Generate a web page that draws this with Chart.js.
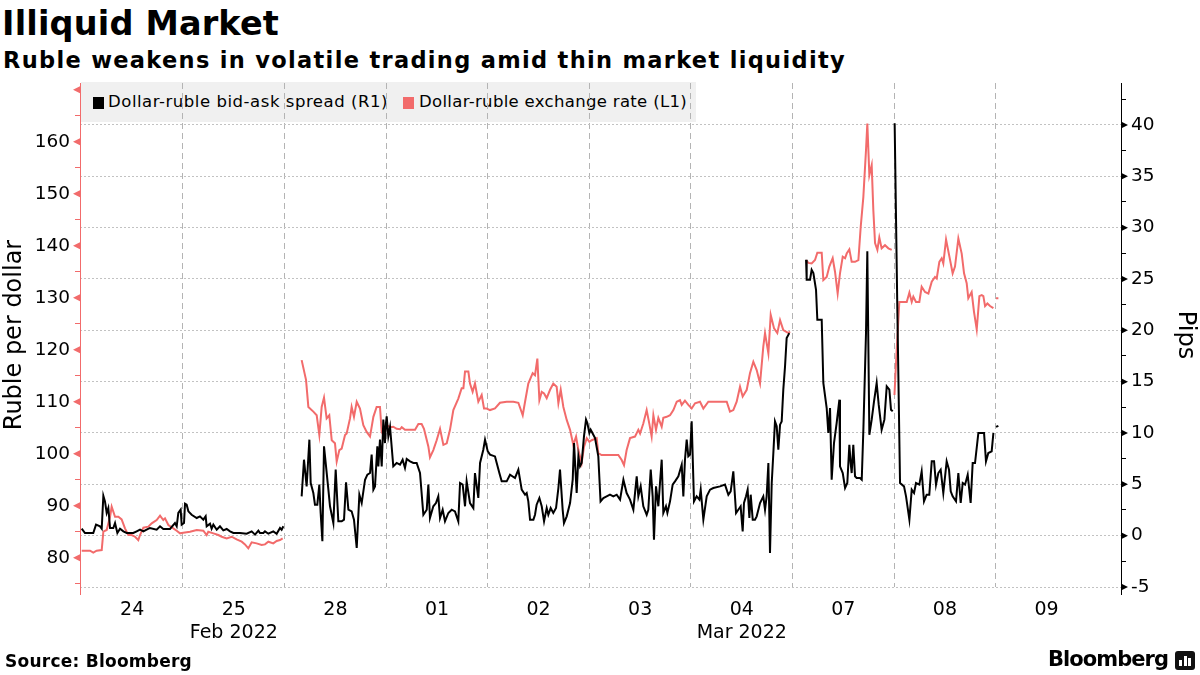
<!DOCTYPE html>
<html><head><meta charset="utf-8">
<script src="https://cdn.jsdelivr.net/npm/chart.js@4.4.1/dist/chart.umd.min.js"></script>
<style>
html,body{margin:0;padding:0;background:#fff;}
#wrap{position:relative;width:1200px;height:675px;overflow:hidden;font-family:"DejaVu Sans",sans-serif;background:#fff;}
.t{position:absolute;white-space:nowrap;line-height:1;color:#000;}
#chart{position:absolute;left:0;top:0;z-index:2;}
#legend{position:absolute;left:81px;top:82px;width:615px;height:40px;background:#f0f0f0;z-index:1;}
#legend .sq{position:absolute;top:15px;width:11px;height:12px;}
#legend .lt{position:absolute;top:12px;font-size:16.5px;line-height:1;white-space:nowrap;color:#000;}
#logo{position:absolute;left:1175px;top:651px;width:20px;height:19px;background:#111;border-radius:3px;z-index:3;}
#logo i{position:absolute;bottom:4px;width:3px;background:#fff;}
</style></head><body>
<div id="wrap">
  <div class="t" id="title" style="left:2px;top:6.7px;font-size:33.5px;font-weight:bold">Illiquid Market</div>
  <div class="t" id="subtitle" style="left:3px;top:48.5px;font-size:22.5px;font-weight:bold">Ruble weakens in volatile trading amid thin market liquidity</div>
  <div id="legend">
    <span class="sq" style="left:12px;background:#000"></span>
    <span class="lt" id="lg1" style="left:27px">Dollar-ruble bid-ask spread (R1)</span>
    <span class="sq" style="left:322px;background:#f26b6b"></span>
    <span class="lt" id="lg2" style="left:338px">Dollar-ruble exchange rate (L1)</span>
  </div>
  <canvas id="chart" width="1200" height="675"></canvas>
  <div class="t" id="source" style="left:5px;top:653px;font-size:17px;font-weight:bold;z-index:3">Source: Bloomberg</div>
  <div class="t" id="brand" style="left:1048px;top:648.5px;font-size:21px;font-weight:bold;z-index:3">Bloomberg</div>
  <div id="logo"><i style="left:4px;height:6px"></i><i style="left:8.5px;height:10px"></i><i style="left:13px;height:8px"></i></div>
</div>
<script>
// ---------- data ----------
const dayLabels = ['24','25','28','01','02','03','04','07','08','09'];
const monthLabels = {1:'Feb 2022', 6:'Mar 2022'};
const leftTicks = [75,80,85,90,95,100,105,110,115,120,125,130,135,140,145,150,155,160,165,170];
const rightTicks = [-5,-2.5,0,2.5,5,7.5,10,12.5,15,17.5,20,22.5,25,27.5,30,32.5,35,37.5,40,42.5];

// x = trading-day index (0 = 24 Feb) + fraction of the session day
// Dollar-ruble bid-ask spread, pips (R1)
const spreadFeb24to25 = [[0.003,0.68],[0.035,0.26],[0.117,0.26],[0.144,1.07],[0.183,0.91],[0.200,0.68],[0.216,3.89],[0.232,3.34],[0.249,2.21],[0.265,2.69],[0.282,0.75],[0.314,0.75],[0.331,1.23],[0.354,0.26],[0.380,0.68],[0.413,0.42],[0.446,0.26],[0.511,0.26],[0.544,0.42],[0.577,0.58],[0.610,0.42],[0.642,0.58],[0.675,0.75],[0.741,0.58],[0.774,0.91],[0.806,0.65],[0.872,0.65],[0.921,1.23],[0.938,0.91],[0.954,2.21],[0.977,2.53],[0.987,1.07],[1.010,1.23],[1.020,3.12],[1.036,3.02],[1.053,2.37],[1.085,2.04],[1.135,1.72],[1.167,1.88],[1.200,1.56],[1.223,1.88],[1.233,0.91],[1.266,1.17],[1.282,0.68],[1.299,1.07],[1.332,0.58],[1.364,0.91],[1.397,0.52],[1.430,0.65],[1.463,0.42],[1.496,0.26],[1.561,0.26],[1.627,0.19],[1.676,0.42],[1.709,0.10],[1.742,0.49],[1.758,0.26],[1.791,0.26],[1.807,0.42],[1.840,0.19],[1.889,0.42],[1.922,0.19],[1.955,0.75],[1.971,0.58],[1.988,0.91]];
const spreadFeb28toMar4 = [[2.168,3.83],[2.191,7.40],[2.217,4.80],[2.244,9.35],[2.257,5.13],[2.283,4.15],[2.299,3.02],[2.322,3.02],[2.342,4.97],[2.355,2.21],[2.372,-0.55],[2.388,8.70],[2.408,6.75],[2.431,4.48],[2.447,2.86],[2.480,1.23],[2.503,6.43],[2.529,1.40],[2.562,1.40],[2.585,1.56],[2.605,5.19],[2.628,2.53],[2.660,2.37],[2.683,1.56],[2.710,-1.20],[2.736,3.99],[2.759,3.18],[2.792,5.45],[2.815,5.94],[2.841,6.10],[2.857,7.89],[2.874,4.48],[2.890,4.80],[2.913,8.70],[2.923,6.75],[2.939,9.35],[2.956,6.75],[2.972,11.30],[2.988,9.02],[2.998,11.00],
[3.005,11.62],[3.021,9.67],[3.038,10.58],[3.070,6.75],[3.103,7.08],[3.136,6.91],[3.162,7.40],[3.185,6.59],[3.202,7.47],[3.235,7.24],[3.267,7.08],[3.300,7.08],[3.333,6.10],[3.366,2.04],[3.399,2.53],[3.415,4.97],[3.431,1.72],[3.464,2.86],[3.490,3.18],[3.513,3.83],[3.530,1.72],[3.556,2.53],[3.579,1.40],[3.612,2.21],[3.645,2.53],[3.677,2.37],[3.710,1.40],[3.727,5.13],[3.753,4.97],[3.776,2.86],[3.792,5.29],[3.825,3.18],[3.858,2.69],[3.874,6.10],[3.907,3.67],[3.924,7.08],[3.956,8.37],[3.973,9.35],
[4.000,8.21],[4.022,7.89],[4.071,7.72],[4.088,7.07],[4.114,6.10],[4.137,5.29],[4.186,5.29],[4.219,5.94],[4.268,5.62],[4.301,6.43],[4.334,4.48],[4.367,3.99],[4.383,4.15],[4.399,3.34],[4.416,1.56],[4.449,1.56],[4.465,2.04],[4.481,3.02],[4.508,3.67],[4.531,2.86],[4.554,1.40],[4.580,2.69],[4.596,2.04],[4.619,2.69],[4.645,2.21],[4.672,2.69],[4.695,4.64],[4.711,6.43],[4.737,2.53],[4.750,1.23],[4.777,1.88],[4.810,3.18],[4.836,5.45],[4.849,9.02],[4.875,4.15],[4.892,7.72],[4.908,6.75],[4.924,7.07],[4.947,9.67],[4.967,11.30],[4.980,10.97],
[5.000,10.00],[5.013,10.32],[5.056,9.51],[5.088,7.72],[5.110,3.34],[5.138,3.67],[5.170,3.83],[5.203,3.99],[5.236,3.83],[5.269,3.99],[5.302,3.51],[5.335,5.45],[5.367,4.15],[5.400,3.51],[5.433,2.53],[5.466,5.78],[5.482,3.83],[5.505,4.80],[5.531,2.86],[5.564,2.04],[5.580,2.53],[5.604,6.43],[5.623,3.83],[5.636,-0.39],[5.656,4.80],[5.679,2.86],[5.695,5.13],[5.712,7.40],[5.728,2.21],[5.754,2.86],[5.768,2.21],[5.794,3.34],[5.820,4.97],[5.843,5.29],[5.876,5.78],[5.909,6.91],[5.925,3.83],[5.941,7.40],[5.958,9.35],[5.974,7.72],[5.991,7.89],
[6.007,11.13],[6.030,3.34],[6.056,3.83],[6.083,3.51],[6.096,4.48],[6.122,1.56],[6.155,3.83],[6.188,4.48],[6.220,4.64],[6.286,4.80],[6.335,4.97],[6.368,3.99],[6.391,4.32],[6.417,6.26],[6.444,2.21],[6.466,2.53],[6.489,2.86],[6.509,0.42],[6.522,3.18],[6.542,3.83],[6.558,4.48],[6.575,1.72],[6.588,3.99],[6.608,1.56],[6.630,1.56],[6.647,1.88],[6.680,3.18],[6.712,3.83],[6.729,2.53],[6.745,3.83],[6.762,7.07],[6.778,-1.69],[6.795,5.13],[6.811,8.05],[6.827,11.13],[6.844,10.65],[6.860,8.37],[6.877,10.81],[6.893,11.13],[6.909,14.22],[6.926,16.49],[6.942,19.25],[6.968,19.73]];
const spreadMar7 = [[7.133,26.87],[7.139,24.93],[7.172,24.93],[7.188,25.90],[7.205,25.58],[7.231,23.95],[7.244,21.03],[7.287,21.03],[7.303,14.87],[7.336,12.43],[7.352,10.00],[7.369,12.43],[7.385,5.45],[7.408,9.02],[7.434,10.97],[7.461,13.24],[7.467,6.75],[7.494,6.10],[7.517,4.64],[7.539,5.13],[7.559,8.86],[7.572,7.07],[7.582,6.10],[7.598,8.86],[7.615,5.78],[7.631,5.62],[7.664,5.62],[7.681,5.45],[7.697,10.32],[7.723,19.73],[7.736,27.69],[7.756,9.83],[7.779,11.30],[7.802,13.08],[7.828,14.87],[7.848,12.76],[7.877,10.32],[7.904,11.30],[7.927,14.54],[7.953,14.22],[7.969,12.27],[7.986,12.11]];
const spreadMar8 = [[8.005,40.18],[8.032,21.68],[8.058,5.13],[8.097,4.80],[8.117,3.83],[8.150,1.56],[8.173,4.48],[8.196,4.15],[8.215,5.13],[8.248,4.97],[8.271,6.26],[8.294,3.34],[8.320,3.99],[8.346,3.99],[8.370,7.24],[8.393,7.24],[8.412,4.97],[8.435,6.10],[8.458,6.43],[8.484,4.15],[8.517,7.24],[8.540,6.43],[8.557,4.32],[8.576,3.83],[8.609,3.34],[8.632,6.10],[8.655,3.18],[8.675,5.13],[8.698,4.97],[8.724,5.94],[8.753,3.18],[8.773,7.07],[8.796,7.07],[8.829,10.00],[8.862,10.00],[8.885,10.00],[8.904,7.24],[8.927,8.05],[8.960,8.21],[8.977,10.00]];
const spreadMar9 = [[9.003,10.60],[9.026,10.70]];

// Dollar-ruble exchange rate, rubles per dollar (L1)
const rateFeb24to25 = [[0.003,81.35],[0.085,81.35],[0.117,80.97],[0.150,81.35],[0.200,81.48],[0.216,85.00],[0.249,85.33],[0.282,87.89],[0.298,89.81],[0.331,87.89],[0.364,87.89],[0.396,87.38],[0.429,85.65],[0.462,84.37],[0.495,84.37],[0.528,84.04],[0.560,83.40],[0.577,84.37],[0.610,85.78],[0.659,85.97],[0.692,86.61],[0.741,87.25],[0.774,88.08],[0.806,87.25],[0.823,87.57],[0.856,86.29],[0.905,85.65],[0.938,85.20],[0.971,84.69],[1.003,84.81],[1.069,85.00],[1.135,85.33],[1.200,85.20],[1.233,84.37],[1.249,85.00],[1.299,84.69],[1.348,84.37],[1.381,84.04],[1.430,83.72],[1.479,84.04],[1.528,83.53],[1.578,83.08],[1.610,82.57],[1.643,81.80],[1.676,82.96],[1.725,82.76],[1.774,82.44],[1.807,82.57],[1.840,83.08],[1.889,82.76],[1.922,83.21],[1.955,83.40],[1.981,83.72]];
const rateFeb28toMar4 = [[2.168,118.0],[2.211,114.2],[2.234,109.0],[2.283,108.1],[2.316,107.4],[2.342,103.6],[2.365,109.0],[2.388,110.8],[2.414,106.8],[2.440,107.4],[2.464,102.6],[2.496,102.0],[2.513,98.5],[2.539,100.7],[2.562,101.0],[2.595,103.6],[2.611,103.9],[2.644,106.8],[2.660,109.0],[2.683,107.1],[2.710,110.0],[2.742,108.7],[2.775,105.5],[2.808,104.2],[2.841,103.3],[2.874,107.1],[2.906,109.0],[2.939,109.0],[2.956,104.2],[2.972,103.6],[2.988,105.2],[3.005,105.5],
[3.038,105.1],[3.070,105.2],[3.103,104.8],[3.136,104.7],[3.153,105.1],[3.185,104.6],[3.235,104.6],[3.284,104.6],[3.317,105.7],[3.349,105.7],[3.372,104.8],[3.415,101.4],[3.431,99.3],[3.464,100.7],[3.497,102.6],[3.530,104.8],[3.563,101.7],[3.596,102.0],[3.628,104.6],[3.661,108.4],[3.710,110.6],[3.743,112.6],[3.760,112.6],[3.776,115.8],[3.809,115.8],[3.825,113.5],[3.851,111.9],[3.874,113.5],[3.907,110.0],[3.940,111.3],[3.963,108.7],[3.989,108.7],
[4.022,108.4],[4.071,108.7],[4.120,109.8],[4.186,110.0],[4.252,110.0],[4.301,109.8],[4.344,107.4],[4.367,110.0],[4.399,113.5],[4.442,115.5],[4.465,115.1],[4.488,118.3],[4.508,110.3],[4.531,111.9],[4.554,111.6],[4.580,110.7],[4.613,112.3],[4.645,113.5],[4.678,112.9],[4.695,109.7],[4.718,112.3],[4.744,109.0],[4.777,106.5],[4.810,104.6],[4.842,101.7],[4.869,103.3],[4.892,100.7],[4.924,98.2],[4.947,101.3],[4.974,103.0],
[5.000,102.3],[5.023,102.6],[5.072,103.0],[5.088,100.1],[5.120,99.75],[5.203,99.75],[5.285,99.75],[5.318,98.8],[5.341,97.8],[5.367,100.7],[5.400,103.0],[5.449,103.3],[5.482,104.6],[5.499,103.9],[5.531,105.8],[5.564,108.4],[5.590,105.8],[5.613,103.3],[5.630,107.4],[5.656,104.6],[5.679,106.9],[5.712,105.2],[5.728,106.9],[5.761,107.1],[5.794,107.4],[5.827,108.4],[5.860,110.0],[5.892,110.3],[5.909,109.4],[5.941,110.2],[5.974,109.4],
[6.007,108.7],[6.040,109.7],[6.089,110.0],[6.122,108.7],[6.171,110.0],[6.220,110.0],[6.286,110.0],[6.352,110.0],[6.384,108.1],[6.417,108.4],[6.450,110.0],[6.483,112.9],[6.509,111.0],[6.549,112.3],[6.581,115.5],[6.614,117.7],[6.647,116.1],[6.680,113.5],[6.712,120.6],[6.729,123.2],[6.762,119.3],[6.785,126.7],[6.818,124.1],[6.850,123.2],[6.877,125.7],[6.909,123.8],[6.959,123.2],[6.975,123.5]];
const rateMar7 = [[7.133,137.25],[7.156,136.7],[7.188,136.6],[7.221,137.25],[7.244,138.66],[7.287,138.66],[7.303,133.4],[7.336,134.0],[7.362,136.0],[7.395,137.6],[7.418,135.0],[7.444,130.8],[7.467,134.7],[7.494,137.9],[7.517,137.6],[7.533,138.5],[7.559,139.3],[7.582,136.9],[7.615,136.9],[7.648,137.25],[7.671,143.65],[7.697,149.4],[7.723,158.4],[7.736,163.5],[7.756,153.6],[7.779,155.5],[7.795,146.9],[7.812,140.5],[7.835,139.2],[7.854,141.6],[7.877,139.5],[7.910,140.1],[7.943,139.5],[7.976,139.2]];
const rateMar8 = [[8.003,111.3],[8.025,119.9],[8.051,129.2],[8.091,129.2],[8.124,129.2],[8.150,131.0],[8.173,129.2],[8.189,130.2],[8.215,129.2],[8.248,129.2],[8.271,132.1],[8.304,131.1],[8.337,130.8],[8.370,133.1],[8.402,134.0],[8.419,133.7],[8.445,136.9],[8.468,137.6],[8.484,136.6],[8.511,141.2],[8.544,137.9],[8.576,134.7],[8.599,136.0],[8.632,141.4],[8.665,138.5],[8.688,134.7],[8.714,132.8],[8.730,129.9],[8.763,131.1],[8.786,127.3],[8.813,123.9],[8.839,130.3],[8.862,130.5],[8.878,130.3],[8.895,128.4],[8.918,128.9],[8.944,128.4],[8.977,128.0]];
const rateMar9 = [[9.003,129.9],[9.026,129.9]];

// ---------- build ----------
const RED = '#f26b6b';
function joinSessions(sessions){
  const out = [];
  sessions.forEach((s, i) => {
    if (i > 0) out.push({x: (out[out.length-1].x + s[0][0]) / 2, y: null});
    s.forEach(p => out.push({x: p[0], y: p[1]}));
  });
  return out;
}
const spreadData = joinSessions([spreadFeb24to25, spreadFeb28toMar4, spreadMar7, spreadMar8, spreadMar9]);
const rateData = joinSessions([rateFeb24to25, rateFeb28toMar4, rateMar7, rateMar8, rateMar9]);

// fit header/footer text widths to the reference font's widths
function fitWidth(id, w){
  const el = document.getElementById(id);
  const cur = el.getBoundingClientRect().width;
  el.style.letterSpacing = ((w - cur) / el.textContent.length) + 'px';
}
fitWidth('title', 277); fitWidth('subtitle', 843); fitWidth('source', 187); fitWidth('brand', 120);
fitWidth('lg1', 280); fitWidth('lg2', 268);

Chart.defaults.font.family = '"DejaVu Sans", sans-serif';
Chart.defaults.color = '#000';

const X_MIN = -0.0138, X_MAX = 10.233;

const axisMarks = {
  id: 'axisMarks',
  afterDraw(chart){
    const {ctx, chartArea: a} = chart;
    const L = chart.scales.y, R = chart.scales.y1;
    ctx.save();
    ctx.lineWidth = 1;
    ctx.strokeStyle = RED;
    ctx.beginPath(); ctx.moveTo(a.left + 0.5, a.bottom); ctx.lineTo(a.left + 0.5, a.bottom + 8); ctx.stroke();
    ctx.strokeStyle = '#000';
    ctx.beginPath(); ctx.moveTo(a.right + 0.5, a.bottom); ctx.lineTo(a.right + 0.5, a.bottom + 8); ctx.stroke();
    ctx.fillStyle = RED;
    L.ticks.forEach(t => {
      if (t.value % 10 !== 0) return;
      const y = L.getPixelForValue(t.value);
      ctx.beginPath(); ctx.moveTo(a.left - 7, y); ctx.lineTo(a.left, y - 3.5); ctx.lineTo(a.left, y + 3.5); ctx.closePath(); ctx.fill();
    });
    ctx.fillStyle = '#000';
    R.ticks.forEach(t => {
      if (t.value % 5 !== 0) return;
      const y = R.getPixelForValue(t.value);
      ctx.beginPath(); ctx.moveTo(a.right + 7, y); ctx.lineTo(a.right, y - 3.5); ctx.lineTo(a.right, y + 3.5); ctx.closePath(); ctx.fill();
    });
    ctx.restore();
  }
};

new Chart(document.getElementById('chart'), {
  type: 'line',
  data: {
    datasets: [
      {label: 'Dollar-ruble bid-ask spread (R1)', data: spreadData, xAxisID: 'x', yAxisID: 'y1',
       borderColor: '#000', borderWidth: 2, pointRadius: 0, tension: 0, spanGaps: false},
      {label: 'Dollar-ruble exchange rate (L1)', data: rateData, xAxisID: 'x', yAxisID: 'y',
       borderColor: RED, borderWidth: 2, pointRadius: 0, tension: 0, spanGaps: false}
    ]
  },
  options: {
    responsive: false, animation: false, devicePixelRatio: 1, events: [],
    layout: {padding: {top: 83, bottom: 0, left: 0, right: 0}},
    plugins: {legend: {display: false}, tooltip: {enabled: false}},
    scales: {
      x: {
        type: 'linear', position: 'bottom', min: X_MIN, max: X_MAX,
        afterBuildTicks: s => { s.ticks = dayLabels.map((d, i) => ({value: i + 0.5})); },
        ticks: {autoSkip: false, maxRotation: 0, padding: 12, font: {size: 19}, color: '#000',
          callback: (v, i) => monthLabels[i] ? [dayLabels[i], monthLabels[i]] : dayLabels[i]},
        grid: {display: false, drawTicks: false},
        border: {display: false},
        afterFit: s => { s.height = 88; }
      },
      xg: {
        type: 'linear', position: 'top', min: X_MIN, max: X_MAX,
        afterBuildTicks: s => { s.ticks = dayLabels.slice(1).map((d, i) => ({value: i + 1})); },
        ticks: {display: false},
        grid: {color: '#b4b4b4', lineWidth: 1, drawTicks: false},
        border: {display: false, dash: [6, 4]},
        afterFit: s => { s.height = 0; }
      },
      y: {
        position: 'left', min: 74.37, max: 171.3,
        afterBuildTicks: s => { s.ticks = leftTicks.map(v => ({value: v})); },
        ticks: {autoSkip: false, padding: 5, font: {size: 18.5}, color: '#000',
          callback: v => (v % 10 === 0 && v <= 160) ? String(v) : ''},
        grid: {drawOnChartArea: false, tickColor: RED, tickLength: 5, lineWidth: 1},
        border: {color: RED, width: 1},
        title: {display: true, text: 'Ruble per dollar', font: {size: 24}, color: '#000', padding: 0},
        afterFit: s => { s.width = 80; }
      },
      y1: {
        position: 'right', min: -5, max: 44.09,
        afterBuildTicks: s => { s.ticks = rightTicks.map(v => ({value: v})); },
        ticks: {autoSkip: false, padding: 5, font: {size: 18.5}, color: '#000',
          callback: v => (v % 5 === 0) ? String(v) : ''},
        grid: {color: c => (c.tick && c.tick.value % 5 === 0) ? '#c2c2c2' : 'rgba(0,0,0,0)',
               tickColor: '#000', tickLength: 5, lineWidth: 1, tickBorderDash: []},
        border: {color: '#000', width: 1, dash: [2, 2]},
        title: {display: true, text: 'Pips', font: {size: 24}, color: '#000', padding: 0},
        afterFit: s => { s.width = 79; }
      }
    }
  },
  plugins: [axisMarks]
});
</script>
</body></html>
